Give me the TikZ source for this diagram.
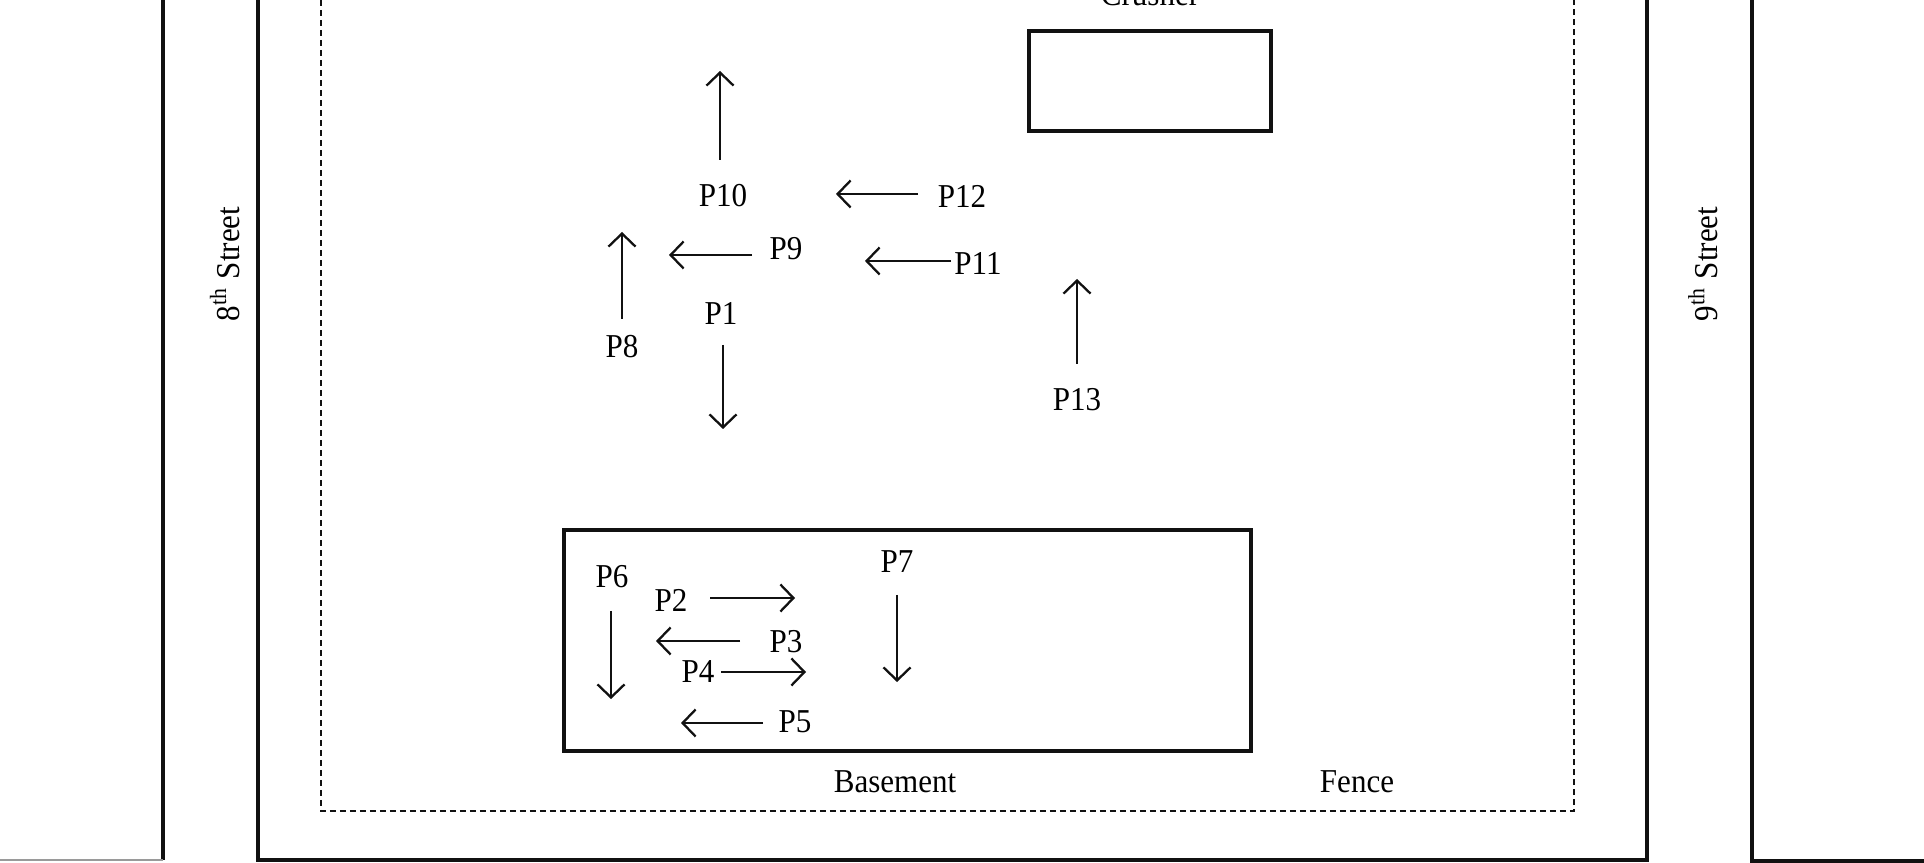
\documentclass[tikz,border=0pt]{standalone}
\usepackage{fontspec}
\setmainfont{Liberation Serif}[FakeStretch=0.93]
\definecolor{sInk}{HTML}{111111}
\definecolor{sFaint}{HTML}{9A9A9A}
\usetikzlibrary{arrows.meta}
\begin{document}
\begin{tikzpicture}[x=0.1mm, y=-0.1mm,
    lbl/.style={inner sep=0pt, font=\fontsize{9.5}{11}\selectfont},
    wall/.style={sInk, line width=1pt},
    fence/.style={sInk, line width=0.7pt, dash pattern=on 0.6mm off 0.4mm},
    flow/.style={sInk, line width=0.65pt, -{Straight Barb[length=1.3mm, width=2.7mm]}}]
  \useasboundingbox (0,0) rectangle (1924,863);
  % streets and lot
  \draw[wall] (163,-10) -- (163,860);
  \draw[sFaint, line width=0.4pt] (163,860) -- (0,860);
  \draw[wall] (258,-10) -- (258,860) -- (1647,860) -- (1647,-10);
  \draw[wall] (1752,-10) -- (1752,861) -- (1930,861);
  \node[lbl, rotate=90] (st8) at (225,264) {8\textsuperscript{th} Street};
  \node[lbl, rotate=90] (st9) at (1703,264) {9\textsuperscript{th} Street};
  \draw[fence] (321,-10) -- (321,811) -- (1574,811) -- (1574,-10);
  \node[lbl] (fence) at (1357,782) {Fence};
  % crusher and basement
  \draw[wall] (1029,31) rectangle (1271,131);
  \node[lbl, anchor=base] (crusher) at (1150,6) {Crusher};
  \draw[wall] (564,530) rectangle (1251,751);
  \node[lbl] (basement) at (895,782) {Basement};
  % points
  \foreach \n/\x/\y in {1/721/313, 2/671/600, 3/786/642, 4/698/672, 5/795/722,
      6/612/577, 7/897/562, 8/622/347, 9/786/249, 10/723/196, 11/978/263,
      12/962/196, 13/1077/400}{
    \node[lbl] (p\n) at (\x,\y) {P\n};}
  % flow directions
  \foreach \n/\xa/\ya/\xb/\yb in {1/723/345/723/429, 2/710/598/795/598,
      3/740/641/656/641, 4/721/672/806/672, 5/763/723/681/723,
      6/611/611/611/699, 7/897/595/897/682, 8/622/319/622/232,
      9/752/255/669/255, 10/720/160/720/71, 11/951/261/865/261,
      12/918/194/836/194, 13/1077/364/1077/279}{
    \coordinate (s\n) at (\xa,\ya);
    \coordinate (e\n) at (\xb,\yb);
    \draw[flow] (s\n) -- (e\n);}
\end{tikzpicture}
\end{document}
